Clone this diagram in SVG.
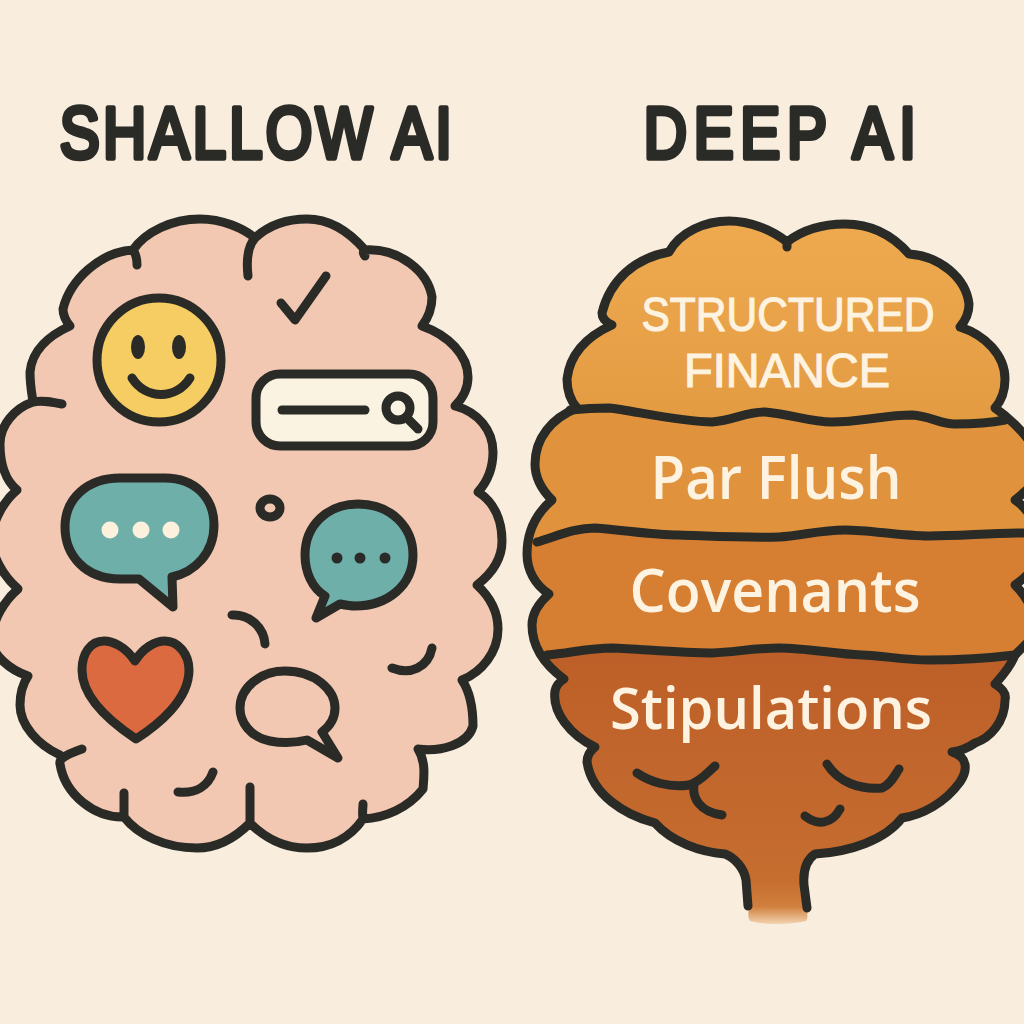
<svg xmlns="http://www.w3.org/2000/svg" width="1024" height="1024" viewBox="0 0 1024 1024">
<defs>
<linearGradient id="b1" x1="0" y1="0" x2="0" y2="1"><stop offset="0" stop-color="#efaa50"/><stop offset="1" stop-color="#e39b42"/></linearGradient>
<linearGradient id="b4" x1="0" y1="0" x2="0" y2="1"><stop offset="0" stop-color="#bc5f28"/><stop offset="1" stop-color="#c66d30"/></linearGradient>
<linearGradient id="stem" x1="0" y1="0" x2="0" y2="1"><stop offset="0" stop-color="#c66d30"/><stop offset="0.6" stop-color="#d07f3c"/><stop offset="1" stop-color="#f3d3b0"/></linearGradient>
<clipPath id="brainClip"><path d="M787 242C805 228 825 224 845 224C875 224 895 238 909 254C940 256 966 278 969 304C969 312 966 320 960 327C985 335 1005 355 1005 379C1005 392 1002 400 995 408C1012 420 1040 445 1040 470C1040 480 1025 492 1015 500C1030 510 1040 530 1040 548C1040 565 1025 578 1015 585C1030 600 1040 620 1030 640L1015 655C1010 668 1002 676 995 684C1005 690 1006 696 1005 700C1005 722 990 738 975 743C968 748 960 751 952 752C968 757 968 770 960 782C945 803 922 815 902 818C885 840 850 852 815 854C806 860 803 872 804 885V912H747L746 880C744 868 735 858 725 854C700 852 672 842 655 823C625 815 592 795 587 762C587 756 590 751 595 747C570 735 552 712 555 691C556 686 559 682 564 679C545 665 532 648 532 625C532 612 540 602 549 594C535 585 527 570 527 554C527 530 538 512 552 500C542 490 535 478 535 464C535 438 552 418 577 408C570 400 567 390 567 379C570 352 590 335 612 325C605 322 602 318 602 313C610 280 635 258 669 252C680 232 705 221 729 221C750 221 772 230 787 242Z"/></clipPath>
</defs>
<style>
.ol{stroke:#2a2b27;stroke-width:9;stroke-linejoin:round;stroke-linecap:round;fill:none}
.head{font-family:"Liberation Sans",Arial,sans-serif;font-size:73px;fill:#2a2b27;stroke:#2a2b27;stroke-width:5.5;stroke-linejoin:round;text-anchor:middle}
.lab{font-family:"Open Sans","Noto Sans",sans-serif;font-weight:600;fill:#fdf3e0;text-anchor:middle}
.cap{font-family:"Liberation Sans",Arial,sans-serif;fill:#fdf3e0;stroke:#fdf3e0;stroke-width:1.2;text-anchor:middle}
.dot{fill:#fbf1dc}
.dk{fill:#2a2b27}
</style>
<rect width="1024" height="1024" fill="#f9eedd"/>
<g transform="scale(0.82 1)">
<text class="head" x="312" y="158" textLength="478" lengthAdjust="spacing">SHALLOW AI</text>
<text class="head" x="951" y="158" textLength="332" lengthAdjust="spacing">DEEP AI</text>
</g>

<g id="shallow-brain">
<path style="fill:#f3c8b2;stroke:none" d="M255 238C270 224 290 219 307 219C332 219 352 235 365 250C400 248 428 272 432 297C432 308 428 318 422 326C448 335 468 355 468 377C468 388 463 398 455 406C478 412 493 430 493 452C493 468 487 482 478 492C494 502 502 520 502 541C502 560 490 575 477 585C490 597 498 612 498 629C498 652 482 672 462 680C470 692 473 708 473 726C468 745 440 752 418 749C426 762 424 776 423 789C408 808 385 818 363 819C350 838 330 848 307 848C285 848 265 838 250 823C235 838 218 848 197 848C165 848 138 835 124 817C95 818 65 795 60 764C59 760 60 757 63 755C38 745 20 725 20 705C20 695 22 685 28 676C10 670 -8 655 -8 640C-8 620 5 600 18 589C2 575 -8 555 -8 540C-8 520 5 500 17 490C5 480 0 462 0 444C0 425 15 408 33 402C32 395 30 385 30 372C32 350 50 335 70 326C65 320 63 315 63 309C70 280 100 252 133 250C145 232 172 219 200 219C222 219 243 228 255 238Z"/>
<path class="ol" d="M248 276C246 258 248 246 255 238C270 224 290 219 307 219C332 219 352 235 365 250C362 252 364 255 365 256M365 250C400 248 428 272 432 297C432 308 428 318 422 326C448 335 468 355 468 377C468 388 463 398 455 406C478 412 493 430 493 452C493 468 487 482 478 492C494 502 502 520 502 541C502 560 490 575 477 585C490 597 498 612 498 629C498 652 482 672 462 680C470 692 473 708 473 726C468 745 440 752 418 749M418 749C426 762 424 776 423 789C408 808 385 818 363 819C362 812 363 808 363 804M363 819C350 838 330 848 307 848C285 848 265 838 250 823V787M250 823C235 838 218 848 197 848C165 848 138 835 124 817V793M124 817C95 818 65 795 60 764C59 760 62 756 82 749M60 755C38 745 20 725 20 705C20 695 22 685 28 676M28 676C10 670 -8 655 -8 640C-8 620 5 600 18 589C2 575 -8 555 -8 540C-8 520 5 500 17 490C5 480 0 462 0 444C0 425 15 408 33 402C42 400 52 402 62 404M33 402C32 395 30 385 30 372C32 350 50 335 70 326C65 320 63 315 63 309C70 280 100 252 133 250C136 254 137 260 137 265M133 250C145 232 172 219 200 219C222 219 243 228 255 238"/>
<path class="ol" d="M281 303L295 320L326 276"/>
<path class="ol" d="M232 615C250 614 264 628 265 644M392 668C410 675 428 668 432 648M178 792C196 794 208 786 213 772"/>
<ellipse class="ol" cx="270" cy="508" rx="10" ry="9"/>
</g>
<g id="smiley"><circle class="ol" cx="159" cy="360" r="62" style="fill:#f6cd62"/><ellipse class="dk" cx="138" cy="347" rx="7" ry="12"/><ellipse class="dk" cx="179" cy="347" rx="7" ry="12"/><path class="ol" d="M132 378C146 400 176 400 190 378"/></g>
<g id="search"><rect class="ol" x="256" y="374" width="177" height="72" rx="24" style="fill:#fbf3e2"/><path class="ol" d="M282 410H365"/><circle class="ol" cx="398" cy="408" r="12"/><path class="ol" d="M408 419L418 429"/></g>
<g id="bubble-left"><path class="ol" style="fill:#6fafa9" d="M120 478H165C195 478 214 498 214 525C214 553 195 572 172 577L173 607L139 579H120C85 579 65 555 65 527C65 498 88 478 120 478Z"/><circle class="dot" cx="110" cy="530" r="8.5"/><circle class="dot" cx="141" cy="530" r="8.5"/><circle class="dot" cx="171" cy="530" r="8.5"/></g>
<g id="bubble-right"><path class="ol" style="fill:#6fafa9" d="M358 504C392 504 413 528 413 555C413 585 388 606 355 606C350 606 345 605 340 604L316 618L325 596C312 588 305 572 305 555C305 525 328 504 358 504Z"/><circle class="dk" cx="337" cy="558" r="5.5"/><circle class="dk" cx="360" cy="558" r="5.5"/><circle class="dk" cx="385" cy="558" r="5.5"/></g>
<g id="heart"><path class="ol" style="fill:#dc6a40" d="M135 661C125 646 112 641 104 641C90 641 82 654 82 670C82 700 115 725 136 739C158 725 189 700 189 670C189 654 178 641 165 641C155 641 143 648 135 661Z"/></g>
<g id="bubble-outline"><path class="ol" d="M285 671C315 671 335 690 335 708C335 718 330 726 322 732L338 758L307 740C295 743 280 743 270 741C250 737 240 722 240 708C240 688 260 671 285 671Z"/></g>

<g id="deep-brain">
<path d="M749 880H804L806 908C808 914 808 918 806 921C790 925 765 925 750 921C748 918 748 914 749 908Z" fill="url(#stem)"/>
<g clip-path="url(#brainClip)">
<rect x="520" y="215" width="520" height="210" fill="url(#b1)"/>
<path fill="#e0933c" d="M520 410C570 410 590 408 609 408C630 410 680 422 712 422C735 420 745 412 765 412C790 414 810 422 832 422C860 422 885 415 912 415C930 416 940 424 955 424C970 424 990 423 1040 420V545H520Z"/>
<path fill="#d67f33" d="M520 545C560 535 575 528 595 528C625 530 650 535 679 535C710 536 745 538 779 537C800 536 820 530 845 530C870 530 900 536 929 536C960 536 990 533 1040 533V670H520Z"/>
<path fill="url(#b4)" d="M520 655C550 655 580 648 612 648C640 649 680 653 712 653C735 652 755 648 779 648C805 648 835 654 862 655C885 656 905 660 929 660C960 660 990 658 1040 653V880H520Z"/>
</g>
<path class="ol" d="M787 247L787 242C805 228 825 224 845 224C875 224 895 238 909 254C940 256 966 278 969 304C969 312 966 320 960 327C985 335 1005 355 1005 379C1005 392 1002 400 995 408C1012 420 1040 445 1040 470C1040 480 1025 492 1015 500C1030 510 1040 530 1040 548C1040 565 1025 578 1015 585C1030 600 1040 620 1030 640L1015 655C1010 668 1002 676 995 684C1005 690 1006 696 1005 700C1005 722 990 738 975 743C968 748 960 751 952 752C968 757 968 770 960 782C945 803 922 815 902 818C885 840 850 852 815 854C806 860 803 872 804 885L807 908M748 906L746 880C744 868 735 858 725 854C700 852 672 842 655 823C625 815 592 795 587 762C587 756 590 751 595 747C570 735 552 712 555 691C556 686 559 682 564 679C545 665 532 648 532 625C532 612 540 602 549 594C535 585 527 570 527 554C527 530 538 512 552 500C542 490 535 478 535 464C535 438 552 418 577 408C570 400 567 390 567 379C570 352 590 335 612 325C605 322 602 318 602 313C610 280 635 258 669 252C680 232 705 221 729 221C750 221 772 230 787 242"/>
<path class="ol" d="M570 410C590 408 600 408 609 408C630 410 680 422 712 422C735 420 745 412 765 412C790 414 810 422 832 422C860 422 885 415 912 415C930 416 940 424 955 424C970 424 990 423 1005 420M537 542C560 535 575 528 595 528C625 530 650 535 679 535C710 536 745 538 779 537C800 536 820 530 845 530C870 530 900 536 929 536C960 536 990 533 1024 533M547 655C570 653 590 648 612 648C640 649 680 653 712 653C735 652 755 648 779 648C805 648 835 654 862 655C885 656 905 660 929 660C960 660 990 658 1015 655"/>
<path class="ol" d="M637 773C650 782 670 788 689 785C700 782 708 772 715 766M694 785C692 798 700 812 722 815M827 764C838 782 860 790 882 788C890 785 895 775 899 769M805 816C818 826 832 824 840 809"/>
<text class="cap" x="788" y="331" font-size="48" textLength="293" lengthAdjust="spacingAndGlyphs">STRUCTURED</text>
<text class="cap" x="787" y="387" font-size="48" textLength="206" lengthAdjust="spacingAndGlyphs">FINANCE</text>
<text class="lab" x="776" y="499" font-size="60" textLength="251" lengthAdjust="spacingAndGlyphs">Par Flush</text>
<text class="lab" x="775" y="612" font-size="60" textLength="291" lengthAdjust="spacingAndGlyphs">Covenants</text>
<text class="lab" x="771" y="729" font-size="58" textLength="322" lengthAdjust="spacingAndGlyphs">Stipulations</text>
</g>
</svg>
